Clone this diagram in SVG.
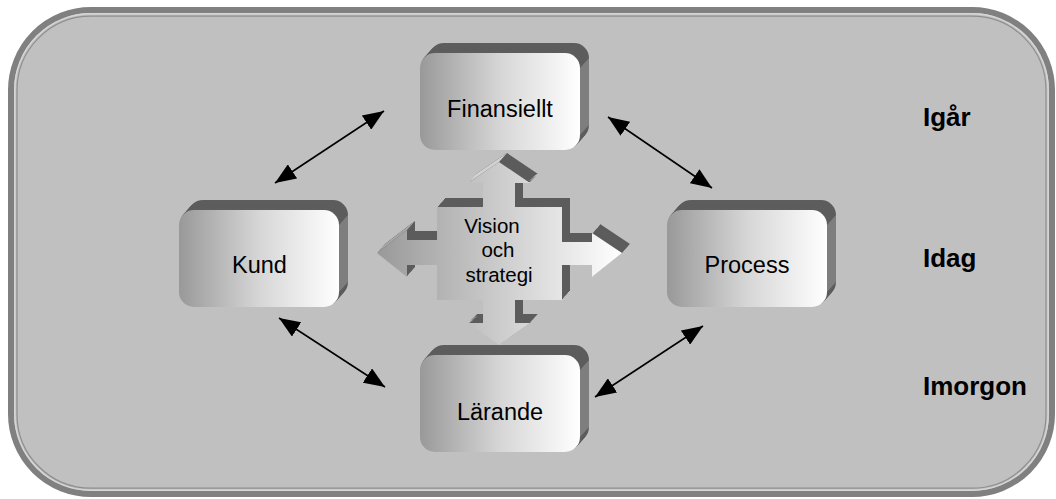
<svg xmlns="http://www.w3.org/2000/svg" xmlns:xlink="http://www.w3.org/1999/xlink" width="1056" height="499" viewBox="0 0 1056 499">
<style>
.lbl{font-family:"Liberation Sans",Arial,sans-serif;font-size:23.5px;fill:#000;text-anchor:middle}
.ctr{font-family:"Liberation Sans",Arial,sans-serif;font-size:20.5px;fill:#000;text-anchor:middle}
.side{font-family:"Liberation Sans",Arial,sans-serif;font-size:26px;font-weight:bold;fill:#000}
.conn{stroke:#000;stroke-width:1.6;fill:none;marker-start:url(#ah);marker-end:url(#ah)}
</style>
<defs>
<linearGradient id="gBox" x1="0" y1="0" x2="1" y2="0">
<stop offset="0" stop-color="#999999"/>
<stop offset="0.5" stop-color="#d6d6d6"/>
<stop offset="1" stop-color="#ffffff"/>
</linearGradient>
<linearGradient id="gCross" gradientUnits="userSpaceOnUse" x1="377" y1="0" x2="622" y2="0">
<stop offset="0" stop-color="#999999"/>
<stop offset="1" stop-color="#ffffff"/>
</linearGradient>
<marker id="ah" viewBox="0 0 21 17" refX="21" refY="8.5" markerWidth="21" markerHeight="17" markerUnits="userSpaceOnUse" orient="auto-start-reverse">
<path d="M0,0 L21,8.5 L0,17 Z" fill="#000"/>
</marker>
<rect id="bx" width="160" height="97" rx="15" ry="15"/>
<g id="box3d">
<g fill="#5d5d5d">
<use href="#bx" x="9" y="-10"/>
<use href="#bx" x="8" y="-8.9"/>
<use href="#bx" x="7" y="-7.8"/>
<use href="#bx" x="6" y="-6.7"/>
<use href="#bx" x="5" y="-5.6"/>
<use href="#bx" x="4" y="-4.4"/>
<use href="#bx" x="3" y="-3.3"/>
<use href="#bx" x="2" y="-2.2"/>
<use href="#bx" x="1" y="-1.1"/>
</g>
<path d="M160,15 L169,5 L169,72 L160,82 Z" fill="#7e7e7e"/>
<use href="#bx" fill="url(#gBox)"/>
</g>
<path id="crossShape" d="M499,162 L530,183 L515,183 L515,207 L562,207 L562,242 L592,242 L592,233 L622,253 L592,277 L592,265 L562,265 L562,300 L515,300 L515,323 L530,323 L499,345 L468,323 L483,323 L483,300 L437,300 L437,265 L407,265 L407,277 L377,253 L407,230 L407,240 L437,240 L437,207 L483,207 L483,183 L468,183 Z"/>
</defs>

<rect x="0" y="0" width="1056" height="499" fill="#ffffff"/>
<g id="frame">
<rect x="11" y="10" width="1041" height="484" rx="80" ry="80" fill="#c0c0c0" stroke="#808080" stroke-width="6"/>
<rect x="14.8" y="13.8" width="1033.4" height="476.4" rx="76" ry="76" fill="none" stroke="#d6d6d6" stroke-width="1.5"/>
<rect x="17" y="16.2" width="1029" height="472" rx="74" ry="74" fill="none" stroke="#8e8e8e" stroke-width="1.2"/>
</g>

<g id="vision">
<g fill="#5c5c5c">
<use href="#crossShape" x="8" y="-9"/>
<use href="#crossShape" x="7" y="-7.9"/>
<use href="#crossShape" x="6" y="-6.75"/>
<use href="#crossShape" x="5" y="-5.6"/>
<use href="#crossShape" x="4" y="-4.5"/>
<use href="#crossShape" x="3" y="-3.4"/>
<use href="#crossShape" x="2" y="-2.25"/>
<use href="#crossShape" x="1" y="-1.1"/>
</g>
<polygon points="468,183 499,162 507,153 476,174" fill="#d2d2d2"/>
<polygon points="377,253 407,230 415,221 385,244" fill="#a6a6a6"/>
<use href="#crossShape" fill="url(#gCross)"/>
<text class="ctr" x="492" y="233">Vision</text>
<text class="ctr" x="498" y="257">och</text>
<text class="ctr" x="499" y="282">strategi</text>
</g>

<g id="connectors">
<line class="conn" x1="384" y1="111" x2="275" y2="183"/>
<line class="conn" x1="608" y1="117" x2="712" y2="188"/>
<line class="conn" x1="279" y1="318" x2="385" y2="387"/>
<line class="conn" x1="703" y1="326" x2="595" y2="397"/>
</g>

<g id="finansiellt">
<use href="#box3d" x="420" y="53"/>
<text class="lbl" x="500" y="117">Finansiellt</text>
</g>
<g id="kund">
<use href="#box3d" x="179" y="210"/>
<text class="lbl" x="259.5" y="273">Kund</text>
</g>
<g id="process">
<use href="#box3d" x="667" y="210"/>
<text class="lbl" x="747" y="273">Process</text>
</g>
<g id="larande">
<use href="#box3d" x="420" y="355"/>
<text class="lbl" x="500" y="420">Lärande</text>
</g>

<g id="timeline">
<text class="side" x="923" y="126">Igår</text>
<text class="side" x="923" y="267">Idag</text>
<text class="side" x="923" y="395">Imorgon</text>
</g>
</svg>
